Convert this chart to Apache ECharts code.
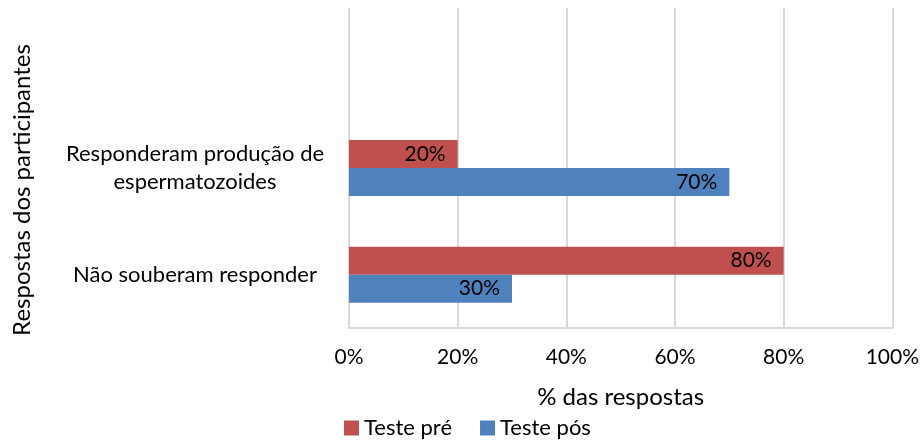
<!DOCTYPE html>
<html>
<head>
<meta charset="utf-8">
<script src="https://cdn.jsdelivr.net/npm/echarts@6/dist/echarts.min.js"></script>
<style>
  html, body { margin: 0; padding: 0; background: #fff; }
  #main { width: 922px; height: 445px; }
</style>
</head>
<body>
<div id="main"></div>
<script>
// categorias de baixo para cima (a de cima fica vazia, como no original)
const categories = ['Não souberam responder', 'Responderam produção de\nespermatozoides', ''];
const testePre = [80, 20, '-'];
const testePos = [30, 70, '-'];
const xTicks = [0, 20, 40, 60, 80, 100];

const font = 'Lato, Carlito, Calibri, sans-serif';
const chartDom = document.getElementById('main');
const myChart = echarts.init(chartDom);

const barLabel = {
  show: true,
  position: 'insideRight',
  distance: 12,
  color: '#000',
  fontFamily: font,
  fontSize: 21,
  formatter: '{c}%'
};

const option = {
  animation: false,
  textStyle: { fontFamily: font },
  grid: { left: 349, right: 29, top: 8, bottom: 117 },
  legend: {
    data: ['Teste pré', 'Teste pós'],
    left: 339,
    bottom: 1,
    itemWidth: 15,
    itemHeight: 15,
    itemGap: 28,
    icon: 'rect',
    textStyle: { fontFamily: font, fontSize: 22, color: '#000' }
  },
  xAxis: {
    type: 'value',
    min: xTicks[0],
    max: xTicks[xTicks.length - 1],
    interval: 20,
    name: '% das respostas',
    nameLocation: 'middle',
    nameGap: 57,
    nameTextStyle: { fontFamily: font, fontSize: 24, color: '#000' },
    axisLine: { show: true, lineStyle: { color: '#D9D9D9', width: 2 } },
    axisTick: { show: false },
    axisLabel: { formatter: '{value}%', color: '#000', fontSize: 21, margin: 19, fontFamily: font },
    splitLine: { show: true, lineStyle: { color: '#D9D9D9', width: 2 } }
  },
  yAxis: {
    type: 'category',
    data: categories,
    axisLine: { show: false },
    axisTick: { show: false },
    axisLabel: {
      align: 'center',
      margin: 154,
      color: '#000',
      fontSize: 22,
      lineHeight: 28,
      fontFamily: font
    },
    splitLine: { show: false }
  },
  graphic: [
    {
      type: 'text',
      rotation: Math.PI / 2,
      x: 22,
      y: 190,
      style: {
        text: 'Respostas dos participantes',
        fill: '#000',
        font: '24px ' + font,
        textAlign: 'center',
        textVerticalAlign: 'middle'
      }
    }
  ],
  series: [
    {
      name: 'Teste pré',
      type: 'bar',
      data: testePre,
      barWidth: 28,
      barGap: '0%',
      itemStyle: { color: '#C0504D' },
      label: barLabel
    },
    {
      name: 'Teste pós',
      type: 'bar',
      data: testePos,
      barWidth: 28,
      barGap: '0%',
      itemStyle: { color: '#4F81BD' },
      label: barLabel
    }
  ]
};

option && myChart.setOption(option);
</script>
</body>
</html>
